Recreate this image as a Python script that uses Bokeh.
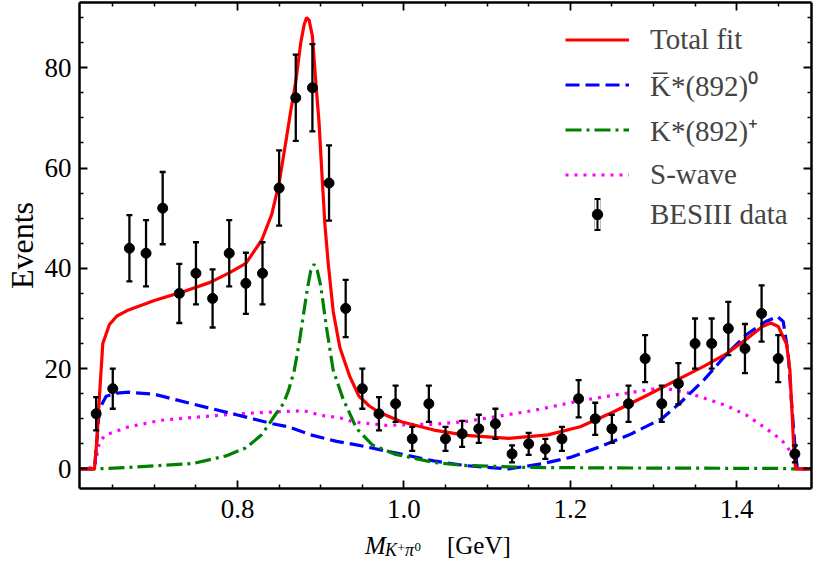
import math
from bokeh.plotting import figure
from bokeh.layouts import column
from bokeh.models import (ColumnDataSource, Whisker, TeeHead, Legend, LegendItem,
                          FixedTicker, PrintfTickFormatter, LinearAxis, Range1d)
from bokeh.core.properties import value
from bokeh.embed import file_html
from bokeh.resources import INLINE

FONT = "Liberation Serif"

X_MIN, X_MAX = 0.61, 1.49
Y_MIN, Y_MAX = -3.9, 93.0

# ---- data points (BESIII) ----
mass = [0.63, 0.65, 0.67, 0.69, 0.71, 0.73, 0.75, 0.77, 0.79, 0.81, 0.83, 0.85,
        0.87, 0.89, 0.91, 0.93, 0.95, 0.97, 0.99, 1.01, 1.03, 1.05, 1.07, 1.09,
        1.11, 1.13, 1.15, 1.17, 1.19, 1.21, 1.23, 1.25, 1.27, 1.29, 1.31, 1.33,
        1.35, 1.37, 1.39, 1.41, 1.43, 1.45, 1.47]
events = [11, 16, 44, 43, 52, 35, 39, 34, 43, 37, 39, 56,
          74, 76, 57, 32, 16, 11, 13, 6, 13, 6, 7, 8,
          9, 3, 5, 4, 6, 14, 10, 8, 13, 22, 13, 17,
          25, 25, 28, 24, 31, 22, 3]
errors = [3.3, 4.0, 6.6, 6.6, 7.2, 5.9, 6.2, 5.8, 6.6, 6.1, 6.2, 7.5,
          8.6, 8.7, 7.5, 5.7, 4.0, 3.3, 3.6, 2.4, 3.6, 2.4, 2.6, 2.8,
          3.0, 1.7, 2.2, 2.0, 2.4, 3.7, 3.2, 2.8, 3.6, 4.7, 3.6, 4.1,
          5.0, 5.0, 5.3, 4.9, 5.6, 4.7, 1.7]

# ---- fit curves ----
fit_x = [0.610, 0.628, 0.631, 0.634, 0.638, 0.646, 0.655, 0.669, 0.700, 0.732,
         0.767, 0.790, 0.810, 0.829, 0.841, 0.850, 0.859, 0.864, 0.870, 0.876,
         0.880, 0.883, 0.886, 0.890, 0.894, 0.898, 0.902, 0.905, 0.909, 0.915,
         0.923, 0.935, 0.946, 0.958, 0.970, 0.997, 1.036, 1.075, 1.126, 1.173,
         1.212, 1.251, 1.290, 1.329, 1.361, 1.388, 1.412, 1.431, 1.441, 1.450,
         1.460, 1.464, 1.467, 1.469, 1.471, 1.490]
fit_y = [0.0, 0.0, 6.0, 14.5, 25.0, 28.8, 30.5, 31.7, 33.6, 35.2,
         37.2, 39.1, 41.0, 45.6, 50.7, 57.0, 66.2, 71.4, 77.2, 85.0,
         88.5, 90.0, 89.5, 86.3, 77.3, 69.0, 57.2, 48.8, 41.0, 31.4,
         24.2, 18.4, 14.5, 12.6, 11.3, 9.4, 7.75, 6.7, 6.1, 6.8,
         8.4, 11.3, 14.5, 17.8, 20.5, 23.0, 25.9, 28.4, 29.1, 28.4,
         24.9, 19.7, 10.0, 2.9, 0.0, 0.0]

kbar_x = [0.610, 0.628, 0.634, 0.642, 0.655, 0.669, 0.700, 0.747, 0.794, 0.841,
          0.861, 0.888, 0.919, 0.943, 0.978, 1.036, 1.075, 1.126, 1.165, 1.200,
          1.232, 1.271, 1.310, 1.333, 1.361, 1.388, 1.412, 1.435, 1.449, 1.456,
          1.462, 1.466, 1.470, 1.473, 1.490]
kbar_y = [0.0, 0.0, 12.0, 14.5, 15.1, 15.3, 14.9, 12.9, 11.0, 9.05,
          8.4, 6.8, 5.5, 4.8, 3.6, 1.6, 0.65, 0.0, 1.0, 2.3,
          4.2, 6.8, 10.0, 13.3, 17.8, 22.9, 26.8, 29.4, 30.4, 29.4,
          22.9, 13.3, 4.8, 0.0, 0.0]

kplus_x = [0.610, 0.628, 0.669, 0.747, 0.786, 0.810, 0.829, 0.845, 0.855, 0.861,
           0.868, 0.874, 0.879, 0.884, 0.888, 0.892, 0.896, 0.900, 0.907, 0.915,
           0.927, 0.943, 0.962, 0.990, 1.036, 1.072, 1.150, 1.250, 1.350, 1.450,
           1.471, 1.490]
kplus_y = [0.0, 0.0, 0.3, 1.1, 2.6, 4.2, 6.8, 10.7, 13.0, 15.5,
           19.5, 25.0, 30.5, 36.0, 39.5, 40.8, 39.5, 36.5, 28.1, 19.7,
           13.9, 8.1, 4.8, 2.9, 1.3, 0.7, 0.3, 0.2, 0.15, 0.1,
           0.0, 0.0]

swave_x = [0.610, 0.628, 0.634, 0.642, 0.669, 0.708, 0.755, 0.802, 0.849, 0.880,
           0.900, 0.923, 0.939, 0.978, 1.017, 1.036, 1.072, 1.095, 1.154, 1.212,
           1.271, 1.310, 1.341, 1.365, 1.388, 1.412, 1.435, 1.454, 1.466, 1.474,
           1.490]
swave_y = [0.0, 0.3, 5.5, 6.8, 8.4, 9.7, 10.4, 11.0, 11.4, 11.6,
           10.7, 10.2, 9.4, 8.7, 8.9, 8.9, 9.4, 10.0, 11.6, 13.6,
           15.2, 16.2, 15.2, 13.9, 12.6, 10.7, 8.1, 5.8, 3.2, 0.0,
           0.0]

x_major = [0.8, 1.0, 1.2, 1.4]
x_minor = [0.65, 0.70, 0.75, 0.85, 0.90, 0.95, 1.05, 1.10, 1.15, 1.25, 1.30, 1.35, 1.45]
y_major = [0, 20, 40, 60, 80]
y_minor = [5, 10, 15, 25, 30, 35, 45, 50, 55, 65, 70, 75, 85, 90]

legend_labels = ["Total fit", "K\u0305*(892)\u2070", "K*(892)\u207a", "S-wave", "BESIII data"]
y_title = "Events"
x_title_parts = ["M", "K", "+", "\u03c0", "0", "[GeV]"]

# ---- main figure ----
p = figure(width=813, height=530, x_range=Range1d(X_MIN, X_MAX), y_range=Range1d(Y_MIN, Y_MAX),
           output_backend="svg", toolbar_location=None,
           min_border_left=76, min_border_right=2, min_border_top=2, min_border_bottom=42)
p.xgrid.visible = False
p.ygrid.visible = False
p.outline_line_color = None
p.background_fill_color = "white"
p.border_fill_color = "white"


def style_axis(ax, ticks, minor, fmt, standoff):
    ax.ticker = FixedTicker(ticks=ticks, minor_ticks=minor)
    ax.formatter = PrintfTickFormatter(format=fmt)
    ax.axis_line_width = 2.5
    ax.axis_line_color = "black"
    ax.major_tick_in = 8
    ax.major_tick_out = 0
    ax.minor_tick_in = 4
    ax.minor_tick_out = 0
    ax.major_tick_line_width = 1.8
    ax.minor_tick_line_width = 1.5
    ax.major_tick_line_color = "black"
    ax.minor_tick_line_color = "black"
    ax.major_label_text_font = FONT
    ax.major_label_text_font_style = "normal"
    ax.major_label_text_color = "black"
    ax.major_label_text_font_size = "27px"
    ax.major_label_standoff = standoff


style_axis(p.xaxis[0], x_major, x_minor, "%.1f", 11)
style_axis(p.yaxis[0], y_major, y_minor, "%d", 8)
p.yaxis[0].axis_label = y_title
p.yaxis[0].axis_label_text_font = FONT
p.yaxis[0].axis_label_text_font_style = "normal"
p.yaxis[0].axis_label_text_font_size = "32px"
p.yaxis[0].axis_label_text_color = "black"
p.yaxis[0].axis_label_standoff = 2


def mirror_axis(ticks, length, line_width, draw_line):
    # label-free mirror axis: ticks given as "minor" ticks so no labels exist
    ax = LinearAxis(ticker=FixedTicker(ticks=[], minor_ticks=ticks))
    ax.minor_tick_in = length
    ax.minor_tick_out = 0
    ax.minor_tick_line_width = line_width
    ax.minor_tick_line_color = "black"
    ax.major_tick_line_color = None
    ax.axis_line_width = 2.5
    ax.axis_line_color = "black" if draw_line else None
    return ax


p.add_layout(mirror_axis(x_major, 8, 1.8, True), "above")
p.add_layout(mirror_axis(x_minor, 4, 1.5, False), "above")
p.add_layout(mirror_axis(y_major, 8, 1.8, True), "right")
p.add_layout(mirror_axis(y_minor, 4, 1.5, False), "right")

# ---- curves ----
r_swave = p.line(swave_x, swave_y, line_color="#ff00ff", line_width=3.2, line_dash="3 6")
r_kbar = p.line(kbar_x, kbar_y, line_color="#0000ff", line_width=3.2, line_dash="14 6")
r_kplus = p.line(kplus_x, kplus_y, line_color="#008000", line_width=3.2, line_dash="16 5 3 5")
r_fit = p.line(fit_x, fit_y, line_color="#ff0000", line_width=3.2)

# ---- data with error bars ----
src = ColumnDataSource(data=dict(
    x=mass, y=events,
    upper=[v + e for v, e in zip(events, errors)],
    lower=[v - e for v, e in zip(events, errors)]))
whisk = Whisker(base="x", upper="upper", lower="lower", source=src,
                line_color="black", line_width=2.3, level="glyph",
                upper_head=TeeHead(size=6, line_width=2.3, line_color="black"),
                lower_head=TeeHead(size=6, line_width=2.3, line_color="black"))
p.add_layout(whisk)
r_data = p.scatter("x", "y", source=src, marker="circle", size=10,
                   fill_color="black", line_color="black")

# legend-only glyphs (a single NaN point, so nothing appears in the plot):
# an error bar with caps, built from short thick line strokes, plus the dot
proxy_src = ColumnDataSource(data=dict(x=[float("nan")], y=[float("nan")]))
cap_box = p.line("x", "y", source=proxy_src, line_color="black", line_width=33,
                 line_dash="0 10 6 100")
cap_cut = p.line("x", "y", source=proxy_src, line_color="white", line_width=29,
                 line_dash="0 10 6 100")
bar_line = p.line("x", "y", source=proxy_src, line_color="black", line_width=33,
                  line_dash="0 12 2 100")
dot_proxy = p.scatter("x", "y", source=proxy_src, marker="circle", size=10,
                      line_color="black", fill_color="black")

leg1 = Legend(items=[LegendItem(label=legend_labels[0], renderers=[r_fit]),
                     LegendItem(label=legend_labels[1], renderers=[r_kbar]),
                     LegendItem(label=legend_labels[2], renderers=[r_kplus]),
                     LegendItem(label=legend_labels[3], renderers=[r_swave])],
              location=(486, 291), orientation="vertical",
              glyph_width=64, glyph_height=45, spacing=0, padding=0, margin=0,
              label_standoff=21, label_text_font=FONT, label_text_font_size="29px",
              border_line_color=None, background_fill_alpha=0)
leg2 = Legend(items=[LegendItem(label=legend_labels[4],
                                renderers=[cap_box, cap_cut, bar_line, dot_proxy])],
              location=(505, 254), orientation="vertical",
              glyph_width=26, glyph_height=40, spacing=0, padding=0, margin=0,
              label_standoff=40, label_text_font=FONT, label_text_font_size="29px",
              border_line_color=None, background_fill_alpha=0)
p.add_layout(leg1)
p.add_layout(leg2)

# ---- x axis title strip (rich text: italic M, subscript K+pi0) ----
# its frame is aligned with the main frame by the column layout, so it shares the x range
strip = figure(width=813, height=30, x_range=p.x_range, y_range=Range1d(0, 30),
               output_backend="svg", toolbar_location=None, min_border=0,
               x_axis_type=None, y_axis_type=None)
strip.outline_line_color = None
strip.background_fill_color = "white"
strip.border_fill_color = "white"
title_src = ColumnDataSource(data=dict(
    text=x_title_parts,
    ax=[1.0] * len(x_title_parts),
    dx=[-39, -19, -6.5, 1, 10.5, 43],
    py=[15.4, 10.1, 12.4, 10.1, 13.9, 15.4],
    size=["25px", "18px", "13px", "18px", "13px", "25px"],
    style=["italic", "italic", "normal", "italic", "normal", "normal"]))
strip.text(x="ax", y="py", x_offset="dx", text="text", source=title_src, text_font=value(FONT),
           text_font_size="size", text_font_style="style", text_align="left",
           text_baseline="middle", text_color="black")

layout = column(p, strip, spacing=0)
open("out.html", "w").write(file_html(layout, INLINE))
